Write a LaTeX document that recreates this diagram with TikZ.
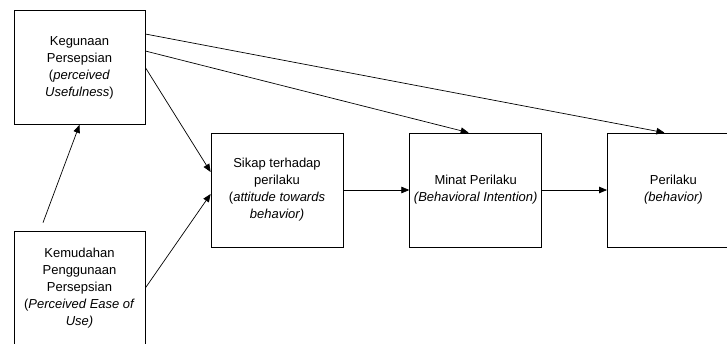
\documentclass[tikz,border=0pt]{standalone}
\usepackage{fontspec}
\setmainfont{Liberation Sans}
\usepackage{tikz}
\usetikzlibrary{arrows.meta,positioning}

\begin{document}
\begin{tikzpicture}[x=1pt,y=-1pt,
    font=\fontsize{13}{17}\selectfont,
    box/.style={draw=black,line width=0.7pt,minimum width=131pt,
                minimum height=114pt,inner sep=0pt,align=center},
    link/.style={line width=0.7pt,-{Triangle[length=8pt,width=6.5pt]}}]
  \useasboundingbox (0,0) rectangle (727,343);
  \clip (0,0) rectangle (727,343);
  % konstruk
  \node[box] (guna) at (79.5,67.5) {Kegunaan\\Persepsian\\
    (\textit{perceived}\\\textit{Usefulness})};
  \node[box] (mudah) at (79.5,288) {Kemudahan\\Penggunaan\\Persepsian\\
    (\textit{Perceived Ease of}\\\textit{Use)}};
  \node[box,minimum width=132pt] (sikap) at (277,190) {Sikap terhadap\\perilaku\\
    (\textit{attitude towards}\\\textit{behavior)}};
  \node[box,minimum width=132pt,right=66pt of sikap] (minat) {Minat Perilaku\\
    \textit{(Behavioral Intention)}};
  \node[box,minimum width=132pt,right=65pt of minat] (laku) {Perilaku\\
    \textit{(behavior)}};
  % hubungan
  \draw[link] ([xshift=-36.5pt,yshift=8pt]mudah.north) -- (guna.south);
  \draw[link] (guna.east) -- ([yshift=18pt]sikap.west);
  \draw[link] (mudah.east) -- ([yshift=-4pt]sikap.west);
  \draw[link] ([yshift=16.5pt]guna.east) -- ([xshift=-7pt]minat.north);
  \draw[link] ([yshift=33.5pt]guna.east) -- ([xshift=-9pt]laku.north);
  \draw[link] (sikap.east) -- (minat.west);
  \draw[link] (minat.east) -- (laku.west);
\end{tikzpicture}
\end{document}
